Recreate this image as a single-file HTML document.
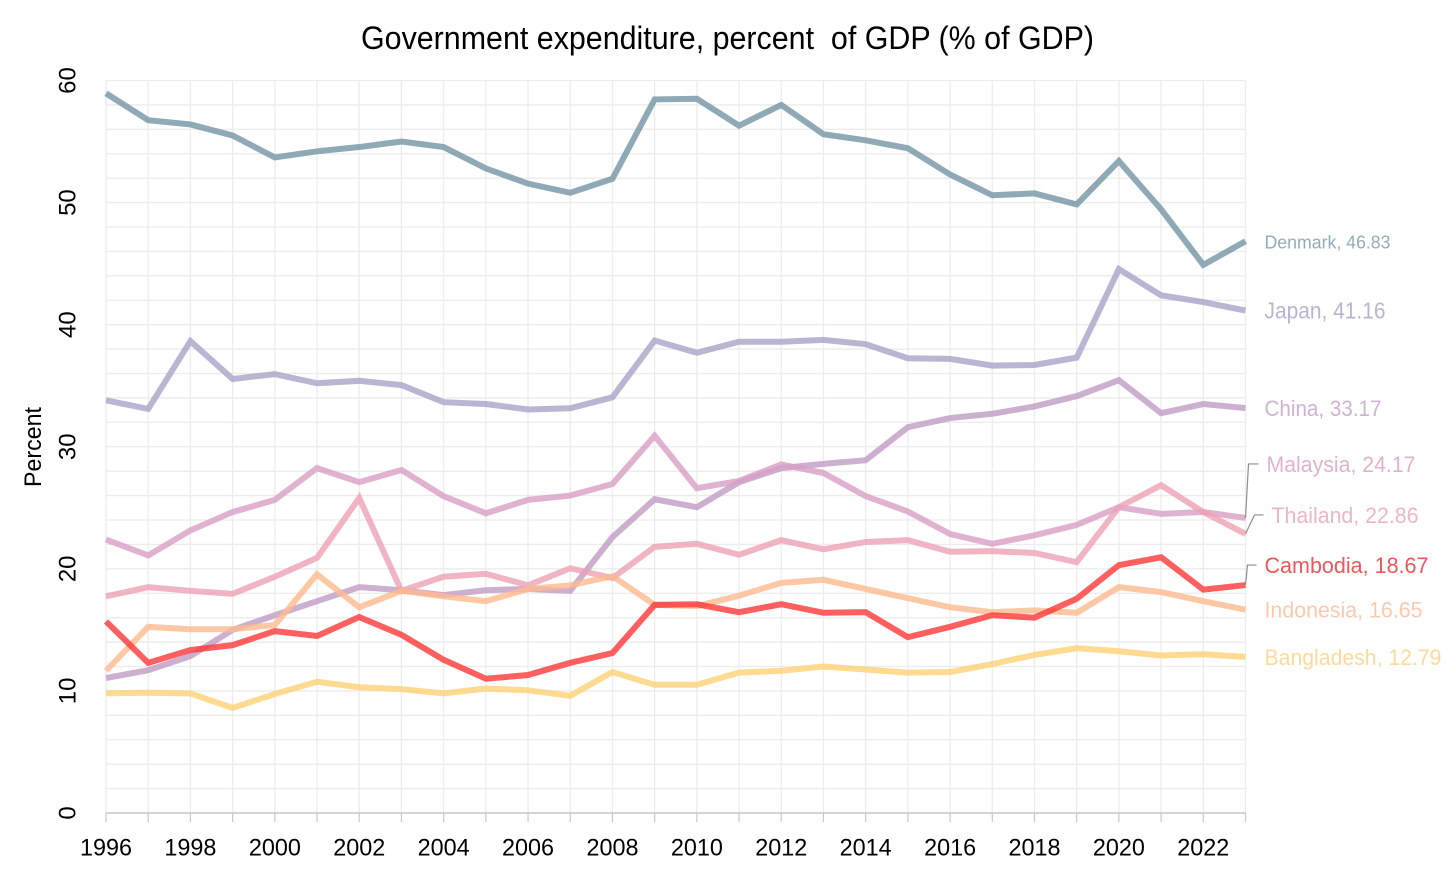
<!DOCTYPE html>
<html lang="en">
<head>
<meta charset="utf-8">
<title>Government expenditure, percent of GDP</title>
<style>
html,body{margin:0;padding:0;background:#fff;width:1456px;height:889px;overflow:hidden}
svg{display:block;font-family:"Liberation Sans",sans-serif}
</style>
</head>
<body>
<svg id="chart" xmlns="http://www.w3.org/2000/svg" width="1456" height="889" viewBox="0 0 1456 889">
<rect width="1456" height="889" fill="#fff"/>
<text x="727.5" y="49" font-size="32" text-anchor="middle" fill="#000" textLength="733" lengthAdjust="spacingAndGlyphs" xml:space="preserve">Government expenditure, percent  of GDP (% of GDP)</text>
<text transform="translate(41,447) rotate(-90)" font-size="24" text-anchor="middle" fill="#000" textLength="80" lengthAdjust="spacingAndGlyphs">Percent</text>
<g id="grid"></g>
<g id="axes"></g>
<g id="series"></g>
<g id="labels"></g>
</svg>
<script>
const years = [1996,1997,1998,1999,2000,2001,2002,2003,2004,2005,2006,2007,2008,2009,2010,2011,2012,2013,2014,2015,2016,2017,2018,2019,2020,2021,2022,2023];
const xTickLabels = [1996,1998,2000,2002,2004,2006,2008,2010,2012,2014,2016,2018,2020,2022];
const yTickLabels = [0,10,20,30,40,50,60];
const yGridValues = [0,2,4,6,8,10,12,14,16,18,20,22,24,26,28,30,32,34,36,38,40,42,44,46,48,50,52,54,56,58,60];

const denmark = [58.95,56.75,56.4,55.5,53.7,54.2,54.55,55.0,54.55,52.8,51.55,50.8,51.95,58.45,58.5,56.3,58.0,55.6,55.1,54.45,52.3,50.6,50.75,49.85,53.4,49.45,44.9,46.83];
const japan = [33.8,33.1,38.65,35.55,35.95,35.2,35.4,35.05,33.65,33.5,33.05,33.15,34.05,38.7,37.7,38.6,38.6,38.75,38.4,37.25,37.2,36.65,36.7,37.3,44.55,42.4,41.85,41.16];
const china = [11.05,11.7,12.85,15.0,16.2,17.35,18.5,18.25,17.85,18.25,18.35,18.2,22.6,25.7,25.05,27.1,28.25,28.6,28.9,31.6,32.35,32.7,33.3,34.15,35.45,32.75,33.5,33.17];
const malaysia = [22.4,21.1,23.15,24.65,25.65,28.25,27.1,28.1,25.95,24.55,25.65,26.0,26.95,30.9,26.6,27.2,28.55,27.85,25.95,24.7,22.85,22.05,22.75,23.6,25.05,24.5,24.65,24.17];
const thailand = [17.75,18.5,18.2,17.95,19.35,20.9,25.8,18.2,19.35,19.6,18.65,20.05,19.25,21.8,22.05,21.15,22.35,21.6,22.2,22.35,21.4,21.45,21.3,20.55,25.05,26.85,24.65,22.86];
const bangladesh = [9.8,9.85,9.8,8.6,9.75,10.75,10.3,10.15,9.8,10.2,10.05,9.6,11.55,10.5,10.5,11.5,11.65,12.0,11.75,11.5,11.55,12.2,12.95,13.5,13.25,12.9,13.0,12.79];
const indonesia = [11.65,15.25,15.05,15.05,15.4,19.55,16.85,18.2,17.75,17.35,18.35,18.65,19.4,17.05,16.95,17.8,18.85,19.1,18.35,17.6,16.85,16.45,16.6,16.4,18.5,18.1,17.35,16.65];
const cambodia = [15.7,12.3,13.35,13.75,14.9,14.5,16.05,14.6,12.55,11.0,11.3,12.3,13.1,17.05,17.1,16.45,17.1,16.4,16.45,14.4,15.25,16.2,16.0,17.55,20.3,20.95,18.3,18.67];

const seriesNames = ["Denmark","Japan","China","Malaysia","Thailand","Bangladesh","Indonesia","Cambodia"];
const seriesValues = [denmark,japan,china,malaysia,thailand,bangladesh,indonesia,cambodia];

const NS = "http://www.w3.org/2000/svg";
const X0 = 106, X1 = 1245.5, Y0 = 813, Y60 = 80.5;
function xScale(year){ return X0 + (year - 1996) * (X1 - X0) / 27; }
function yScale(v){ return Y0 - v * (Y0 - Y60) / 60; }
function make(tag, attrs, parent){
  const el = document.createElementNS(NS, tag);
  for (const k in attrs) el.setAttribute(k, attrs[k]);
  parent.appendChild(el);
  return el;
}
const grid = document.getElementById("grid");
const axes = document.getElementById("axes");
const seriesLayer = document.getElementById("series");
const labelLayer = document.getElementById("labels");

const lineStyle = {
  Denmark:{stroke:"#7395a4"}, Japan:{stroke:"#aaa1c7"}, China:{stroke:"#c19bc4"}, Malaysia:{stroke:"#d89fc4"},
  Thailand:{stroke:"#eca1b4"}, Bangladesh:{stroke:"#ffd175"}, Indonesia:{stroke:"#ffba8e"}, Cambodia:{stroke:"#ff3737"}
};
const labelStyle = {
  Denmark:{fill:"#93adb8",size:18,dx:19,dy:7,len:126},
  Japan:{fill:"#b9b5d0",size:23,dx:19,dy:8,len:121},
  China:{fill:"#cfb3d3",size:22,dx:19,dy:8,len:117},
  Malaysia:{fill:"#e0b2d0",size:22,dx:21,dy:-46,len:149,leader:[[3,-54],[13,-54]]},
  Thailand:{fill:"#ecb5c8",size:22,dx:26,dy:-11,len:147,leader:[[9,-19],[18,-19]]},
  Cambodia:{fill:"#f0565a",size:22,dx:19,dy:-12,len:164,leader:[[2,-20],[11,-20]]},
  Indonesia:{fill:"#fcc9ad",size:22,dx:19,dy:8,len:158},
  Bangladesh:{fill:"#fdd99a",size:22,dx:19,dy:8,len:177}
};

yGridValues.forEach(function(v){
  const ln = make("line",{x1:X0,x2:X1,y1:yScale(v),y2:yScale(v),stroke:"#ececec","stroke-width":1.3},grid);
  
  
});
years.forEach(function(y){
  const ln = make("line",{x1:xScale(y),x2:xScale(y),y1:Y60,y2:Y0,stroke:"#ececec","stroke-width":1.3},grid);
  
  
  const tick = make("line",{x1:xScale(y),x2:xScale(y),y1:Y0,y2:Y0+9,stroke:"#c8c8c8","stroke-width":1.2},axes);
  
  
});
const axisLine = make("line",{x1:X0,x2:X1,y1:Y0,y2:Y0,stroke:"#c8c8c8","stroke-width":1.4},axes);



xTickLabels.forEach(function(y){
  const t = make("text",{x:xScale(y),y:855.5,"font-size":24,"text-anchor":"middle",fill:"#000",textLength:52,lengthAdjust:"spacingAndGlyphs"},axes);
  
  
  t.textContent = y;
});
yTickLabels.forEach(function(v){
  const t = make("text",{transform:"translate(75.5,"+yScale(v)+") rotate(-90)","font-size":24,"text-anchor":"middle",fill:"#000"},axes);
  
  
  t.textContent = v;
});

seriesNames.forEach(function(name, i){
  const vals = seriesValues[i];
  const d = vals.map(function(v, j){ return (j ? "L" : "M") + xScale(years[j]).toFixed(2) + " " + yScale(v).toFixed(2); }).join(" ");
  const path = make("path",{d:d,fill:"none",stroke:lineStyle[name].stroke,"stroke-width":6,"stroke-opacity":0.8,"stroke-linejoin":"miter","stroke-linecap":"butt"},seriesLayer);
  
  

  const st = labelStyle[name];
  const last = vals[vals.length - 1];
  const ex = X1, ey = yScale(last);
  if (st.leader) {
    const pts = [[ex, ey]].concat(st.leader.map(function(p){ return [ex + p[0], ey + p[1]]; }));
    const leader = make("polyline",{points:pts.map(function(p){ return p.join(","); }).join(" "),fill:"none",stroke:"#8c8c8c","stroke-width":1.2},labelLayer);
    
    
  }
  const lab = make("text",{x:ex + st.dx,y:ey + st.dy,"font-size":st.size,fill:st.fill,textLength:st.len,lengthAdjust:"spacingAndGlyphs"},labelLayer);
  
  
  lab.textContent = name + ", " + last.toFixed(2);
});
</script>
</body>
</html>
